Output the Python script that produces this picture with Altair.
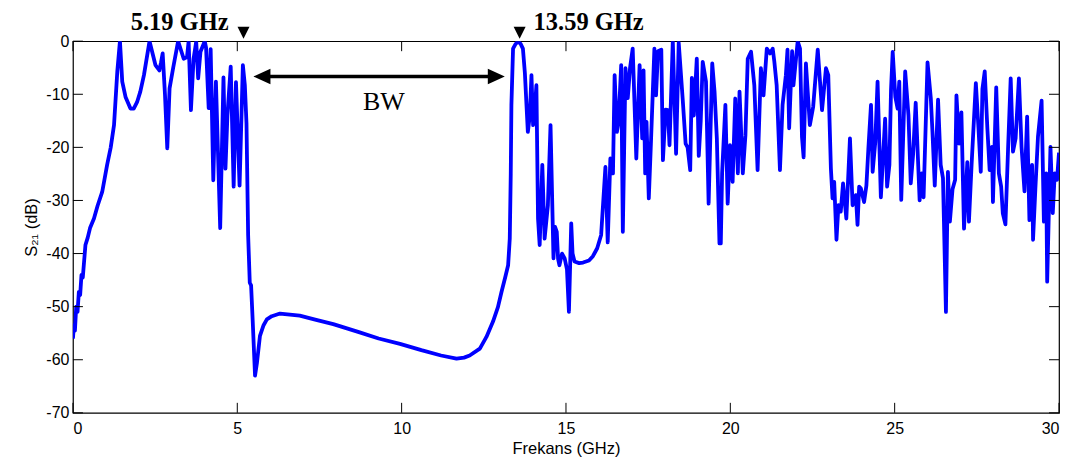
import altair as alt
import pandas as pd

# S21 response
freq = [
    0.00, 0.03, 0.06, 0.10, 0.14, 0.18, 0.22, 0.26, 0.30, 0.38, 0.45, 0.52, 0.64, 0.75, 0.89,
    1.04, 1.15, 1.25, 1.35, 1.43, 1.50, 1.60, 1.75, 1.85, 1.95, 2.05, 2.16, 2.33, 2.51, 2.63,
    2.68, 2.73, 2.80, 2.87, 2.94, 3.05, 3.20, 3.37, 3.47, 3.52, 3.59, 3.67, 3.75, 3.81, 3.88,
    4.01, 4.05, 4.13, 4.19, 4.27, 4.35, 4.48, 4.58, 4.64, 4.70, 4.80, 4.89, 4.96, 5.07, 5.17,
    5.23, 5.28, 5.33, 5.38, 5.42, 5.47, 5.54, 5.60, 5.69, 5.80, 5.90, 6.05, 6.30, 6.60, 6.90,
    7.40, 7.92, 8.70, 9.30, 9.95, 10.60, 11.20, 11.67, 11.90, 12.07, 12.38, 12.58, 12.78, 12.93, 13.04,
    13.15, 13.24, 13.29, 13.32, 13.34, 13.39, 13.46, 13.54, 13.62, 13.69, 13.75, 13.84, 13.90, 13.95, 14.00,
    14.05, 14.10, 14.15, 14.20, 14.28, 14.35, 14.45, 14.53, 14.62, 14.67, 14.72, 14.76, 14.80, 14.88, 14.96,
    15.03, 15.09, 15.16, 15.20, 15.26, 15.40, 15.52, 15.70, 15.82, 15.95, 16.07, 16.20, 16.27, 16.35, 16.43,
    16.48, 16.55, 16.60, 16.68, 16.73, 16.81, 16.88, 16.95, 17.03, 17.14, 17.24, 17.32, 17.36, 17.41, 17.45,
    17.52, 17.59, 17.69, 17.74, 17.80, 17.90, 17.95, 18.03, 18.10, 18.15, 18.25, 18.35, 18.43, 18.55, 18.64,
    18.70, 18.78, 18.83, 18.89, 18.98, 19.04, 19.10, 19.16, 19.26, 19.34, 19.45, 19.52, 19.59, 19.67, 19.71,
    19.75, 19.85, 19.92, 19.99, 20.07, 20.15, 20.23, 20.28, 20.38, 20.46, 20.53, 20.63, 20.73, 20.83, 20.93,
    21.01, 21.11, 21.21, 21.29, 21.34, 21.41, 21.51, 21.59, 21.69, 21.74, 21.79, 21.88, 21.92, 22.05, 22.12,
    22.18, 22.23, 22.30, 22.42, 22.52, 22.66, 22.79, 22.91, 22.98, 23.06, 23.11, 23.16, 23.23, 23.29, 23.36,
    23.43, 23.53, 23.64, 23.72, 23.82, 23.87, 23.92, 23.97, 24.07, 24.14, 24.20, 24.28, 24.33, 24.41, 24.48,
    24.58, 24.71, 24.77, 24.84, 24.89, 24.94, 25.02, 25.09, 25.14, 25.20, 25.32, 25.42, 25.49, 25.56, 25.64,
    25.76, 25.82, 25.88, 26.00, 26.10, 26.15, 26.22, 26.32, 26.40, 26.47, 26.56, 26.62, 26.68, 26.76, 26.84,
    26.88, 26.96, 27.03, 27.11, 27.21, 27.26, 27.34, 27.47, 27.55, 27.62, 27.67, 27.74, 27.82, 27.89, 27.96,
    27.99, 28.09, 28.17, 28.24, 28.29, 28.37, 28.45, 28.53, 28.60, 28.68, 28.78, 28.86, 28.95, 29.03, 29.10,
    29.18, 29.21, 29.28, 29.36, 29.47, 29.54, 29.61, 29.64, 29.69, 29.74, 29.81, 29.87, 29.94, 30.00,
]
s21 = [
    -56.0, -53.5, -54.5, -50.0, -51.0, -47.2, -47.8, -44.0, -44.5, -38.4, -37.0, -35.2, -33.4, -31.0, -28.4,
    -23.3, -20.0, -15.8, -5.7, 0.0, -7.6, -10.5, -12.7, -12.7, -11.5, -9.5, -6.4, 0.0, -4.5, -5.5,
    -4.0, -2.3, -10.0, -20.2, -8.9, -5.0, 0.0, -3.3, -3.0, 0.0, -13.0, -3.3, -0.1, -7.0, -2.0,
    0.0, -1.2, -12.6, -1.5, -26.2, -7.6, -35.2, -6.8, -24.0, -14.0, -4.8, -27.4, -7.7, -27.2, -4.5,
    -8.3, -15.5, -36.5, -45.5, -46.0, -52.8, -63.0, -60.5, -55.5, -53.5, -52.4, -51.8, -51.3, -51.5, -51.7,
    -52.5, -53.3, -54.8, -56.0, -57.0, -58.2, -59.2, -59.8, -59.6, -59.2, -57.9, -55.7, -52.8, -50.1, -47.2,
    -44.5, -42.2, -37.2, -25.0, -12.0, -1.4, -0.6, 0.0, -0.5, -1.4, -6.0, -17.1, -14.0, -6.4, -15.8,
    -13.0, -8.3, -33.4, -38.4, -23.3, -37.2, -30.9, -15.8, -40.9, -35.0, -35.9, -41.0, -42.2, -40.0, -40.9,
    -43.0, -51.0, -34.3, -40.0, -41.5, -41.8, -41.7, -41.3, -40.5, -39.0, -36.5, -23.7, -37.9, -22.1, -24.9,
    -6.4, -17.1, -15.2, -4.5, -35.9, -5.1, -10.7, -5.0, -1.4, -22.1, -4.5, -18.3, -5.5, -24.9, -15.2,
    -29.6, -18.3, -1.4, -10.2, -1.9, -1.6, -22.4, -12.9, -13.0, -19.6, 0.0, -21.2, -0.3, -10.8, -19.3,
    -20.0, -24.3, -6.9, -14.0, -3.3, -21.6, -15.0, -3.9, -7.6, -30.6, -4.2, -9.5, -18.3, -38.1, -38.1,
    -24.9, -12.0, -30.6, -19.6, -26.5, -10.8, -24.9, -9.5, -24.9, -17.7, -3.3, -2.0, -8.3, -24.3, -5.1,
    -10.2, -1.4, -2.3, -1.4, -3.9, -8.3, -24.3, -12.0, -6.4, -1.6, -16.4, -1.9, -8.3, 0.0, -1.4,
    -18.0, -21.9, -4.2, -15.8, -12.4, -1.6, -13.0, -5.1, -6.4, -24.0, -29.6, -26.5, -37.4, -30.9, -32.1,
    -26.8, -33.4, -18.3, -30.9, -29.0, -34.6, -27.4, -27.7, -30.3, -27.2, -20.3, -12.0, -24.6, -19.0, -7.6,
    -29.4, -14.6, -27.4, -23.3, -9.0, -2.0, -10.5, -12.7, -7.6, -29.9, -5.7, -14.0, -26.8, -21.4, -11.6,
    -30.0, -24.9, -29.4, -4.0, -10.8, -17.1, -27.2, -11.0, -23.3, -25.8, -51.0, -24.6, -34.0, -27.9, -26.1,
    -10.2, -19.3, -13.4, -35.3, -22.8, -34.0, -23.3, -7.9, -16.4, -24.6, -9.0, -5.7, -16.4, -24.3, -19.9,
    -30.3, -8.7, -24.9, -27.4, -32.4, -34.5, -20.3, -7.0, -20.8, -18.3, -7.0, -19.9, -28.3, -14.2, -33.7,
    -23.3, -37.4, -27.9, -18.0, -11.2, -34.0, -24.9, -45.3, -32.4, -19.9, -32.4, -24.9, -26.1, -21.0,
]

x_ticks = [0, 5, 10, 15, 20, 25, 30]
y_ticks = [0, -10, -20, -30, -40, -50, -60, -70]

# annotations
marker_f = [5.19, 13.59]
marker_y = [1.6, 1.6]
left_label = ["5.19 GHz"]
right_label = ["13.59 GHz"]
label_y = 2.2
bw_text = ["BW"]
bw_f = [9.46]
bw_y = [-13.05]
arrow_f = [5.75, 12.88]
arrow_y = -6.65

W, H = 987, 372
SANS = "Liberation Sans"
SERIF = "Liberation Serif"

xs = alt.Scale(domain=[0, 30], nice=False, zero=False)
ys = alt.Scale(domain=[-70, 0], nice=False, zero=False)

x_axis = alt.Axis(
    values=x_ticks, title="Frekans (GHz)", ticks=False, tickSize=0, domain=False, grid=False,
    labelFont=SANS, labelFontSize=16, labelColor="black", labelPadding=8,
    labelExpr="toString(datum.value)",
    titleFont=SANS, titleFontSize=16.5, titleFontWeight="normal", titleColor="black", titlePadding=4)
y_axis = alt.Axis(
    values=y_ticks, title="S₂₁ (dB)", ticks=False, tickSize=0, domain=False, grid=False,
    labelFont=SANS, labelFontSize=16, labelColor="black", labelPadding=4,
    labelExpr="toString(datum.value)",
    titleFont=SANS, titleFontSize=16.5, titleFontWeight="normal", titleColor="black", titlePadding=6)


def X(field):
    return alt.X(field, scale=xs, axis=x_axis)


def Y(field):
    return alt.Y(field, scale=ys, axis=y_axis)


df = pd.DataFrame({"f": freq, "s": s21})

line = alt.Chart(df).mark_line(color="#0000FF", strokeWidth=3.8, clip=True, strokeJoin="round").encode(
    x=X("f:Q"), y=Y("s:Q"))

xt = pd.DataFrame({"t": x_ticks})
yt = pd.DataFrame({"t": y_ticks})
tick_style = dict(color="black", strokeWidth=1)
xtick_b = alt.Chart(xt).mark_rule(**tick_style).encode(x=X("t:Q"), y=alt.value(H), y2=alt.value(H - 10))
xtick_t = alt.Chart(xt).mark_rule(**tick_style).encode(x=X("t:Q"), y=alt.value(0), y2=alt.value(10))
ytick_l = alt.Chart(yt).mark_rule(**tick_style).encode(y=Y("t:Q"), x=alt.value(0), x2=alt.value(10))
ytick_r = alt.Chart(yt).mark_rule(**tick_style).encode(y=Y("t:Q"), x=alt.value(W), x2=alt.value(W - 10))

mk = pd.DataFrame({"f": marker_f, "y": marker_y})
markers = alt.Chart(mk).mark_point(
    shape="M -1 -1 L 1 -1 L 0 1 Z", filled=True, color="black", opacity=1, size=144
).encode(x=X("f:Q"), y=Y("y:Q"))

lab1 = alt.Chart(pd.DataFrame({"f": [marker_f[0]], "y": [label_y], "t": left_label})).mark_text(
    font=SERIF, fontSize=24.5, fontWeight="bold", color="black", align="right", baseline="alphabetic", dx=-15
).encode(x=X("f:Q"), y=Y("y:Q"), text="t:N")
lab2 = alt.Chart(pd.DataFrame({"f": [marker_f[1]], "y": [label_y], "t": right_label})).mark_text(
    font=SERIF, fontSize=24.5, fontWeight="bold", color="black", align="left", baseline="alphabetic", dx=14
).encode(x=X("f:Q"), y=Y("y:Q"), text="t:N")

bw = alt.Chart(pd.DataFrame({"f": bw_f, "y": bw_y, "t": bw_text})).mark_text(
    font=SERIF, fontSize=26, color="black", align="center", baseline="alphabetic"
).encode(x=X("f:Q"), y=Y("y:Q"), text="t:N")

arr_df = pd.DataFrame({"f": [arrow_f[0]], "f2": [arrow_f[1]], "y": [arrow_y]})
arrow_line = alt.Chart(arr_df).mark_rule(color="black", strokeWidth=3.5).encode(
    x=X("f:Q"), x2="f2:Q", y=Y("y:Q"))
head_l = alt.Chart(pd.DataFrame({"f": [arrow_f[0]], "y": [arrow_y]})).mark_point(
    shape="M -1 0 L 1 -0.9 L 1 0.9 Z", filled=True, color="black", opacity=1, size=289
).encode(x=X("f:Q"), y=Y("y:Q"))
head_r = alt.Chart(pd.DataFrame({"f": [arrow_f[1]], "y": [arrow_y]})).mark_point(
    shape="M 1 0 L -1 -0.9 L -1 0.9 Z", filled=True, color="black", opacity=1, size=289
).encode(x=X("f:Q"), y=Y("y:Q"))

chart = alt.layer(
    line, xtick_b, xtick_t, ytick_l, ytick_r, markers, lab1, lab2, bw, arrow_line, head_l, head_r
).properties(
    width=W, height=H,
    autosize=alt.AutoSizeParams(type="none"),
    padding={"left": 65, "top": 33, "right": 10, "bottom": 50},
    background="white",
).configure_view(stroke="black", strokeWidth=1.2)

chart.save("out.html", embed_options={"renderer": "svg", "actions": False})
